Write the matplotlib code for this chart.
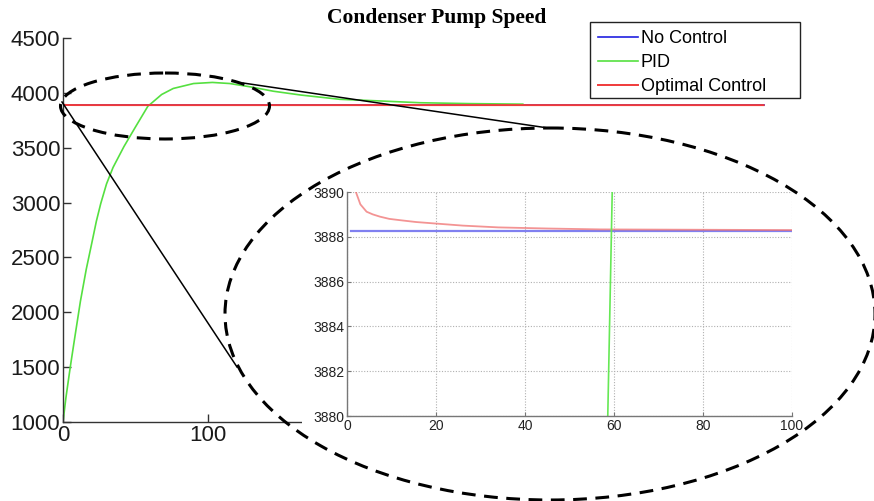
import matplotlib.pyplot as plt
from matplotlib.patches import Ellipse, Rectangle

plt.rcParams['font.family'] = ['Liberation Sans', 'DejaVu Sans']

# PID response (time, speed)
pid_t = [0, 2, 5, 8, 12, 16, 20, 23, 26, 30, 34.5, 42, 50, 58.6, 59.6, 68, 76, 90,
         103, 115, 129, 145, 164, 191, 219, 246, 280, 317]
pid_v = [1000, 1220, 1500, 1760, 2100, 2390, 2640, 2830, 2990, 3170, 3320, 3510,
         3690, 3880, 3890, 3985, 4040, 4085, 4095, 4085, 4055, 4015, 3980, 3941,
         3926, 3910, 3902, 3897]

# Optimal control response
opt_t = [0, 1, 2, 3, 4.4, 5.8, 7.4, 9.5, 12, 15.5, 19.4, 26, 34, 45, 57, 100, 200, 483]
opt_v = [3893, 3891, 3890, 3889.45, 3889.12, 3889.0, 3888.9, 3888.8, 3888.74,
         3888.66, 3888.6, 3888.5, 3888.42, 3888.37, 3888.33, 3888.3, 3888.29, 3888.28]

# No control (constant speed)
noc_t = [1, 483]
noc_v = [3888.28, 3888.28]

main_xticks = [0, 100, 200, 300, 400, 500]
main_yticks = [1000, 1500, 2000, 2500, 3000, 3500, 4000, 4500]
inset_xticks = [0, 20, 40, 60, 80, 100]
inset_yticks = [3880, 3882, 3884, 3886, 3888, 3890]

W, H = 874, 501
fig = plt.figure(figsize=(W / 100, H / 100), dpi=100)


def fig_box(x0, y0, x1, y1):
    # pixel box (top-left origin) -> figure fraction rect
    return [x0 / W, 1 - y1 / H, (x1 - x0) / W, (y1 - y0) / H]


# main axes
ax = fig.add_axes(fig_box(63, 38, 810, 422))
ax.set_zorder(1)
l_noc, = ax.plot(noc_t, noc_v, color='#2020e0', lw=1.2, label='No Control')
l_pid, = ax.plot(pid_t, pid_v, color='#55e040', lw=1.2, label='PID')
l_opt, = ax.plot(opt_t, opt_v, color='#f03a3a', lw=1.4, label='Optimal Control')
ax.set_xlim(0, 515)
ax.set_ylim(1000, 4500)
ax.set_xticks(main_xticks)
ax.set_yticks(main_yticks)
for s in ('top', 'right'):
    ax.spines[s].set_visible(False)
for s in ('left', 'bottom'):
    ax.spines[s].set_color('#333333')
    ax.spines[s].set_linewidth(1.0)
ax.tick_params(direction='in', length=6, width=1, color='#333333',
               labelsize=16, labelcolor='#1a1a1a', pad=2)

# legend entries, boxed separately below
leg = ax.legend(handles=[l_noc, l_pid, l_opt], loc='upper left',
                bbox_to_anchor=(593 / W, 1 - 25 / H), bbox_transform=fig.transFigure,
                borderaxespad=0, fontsize=13, frameon=False,
                handlelength=2.2, handletextpad=0.15, labelspacing=0.38,
                borderpad=0.3)

fig.text(437 / W, 1 - 18 / H, 'Condenser Pump Speed', ha='center', va='center',
         fontsize=15.5, fontweight='bold', family='Liberation Serif')

# overlay in pixel coordinates for the zoom annotation
ov = fig.add_axes([0, 0, 1, 1])
ov.set_zorder(2)
ov.set_xlim(0, W)
ov.set_ylim(H, 0)
ov.axis('off')
ov.patch.set_alpha(0)

ov.add_patch(Rectangle((590, 22), 210, 76, fill=False, edgecolor='#222222', lw=1.0))
ov.add_patch(Rectangle((302, 132), 515, 323, facecolor='white', edgecolor='none'))
ov.plot([62, 237], [102, 367], color='black', lw=1.1)
ov.plot([243, 548], [83, 128], color='black', lw=1.1)
ov.add_patch(Ellipse((165, 106), 209, 66, fill=False, edgecolor='black',
                     lw=2.2, linestyle=(0, (4.5, 2.8))))
ov.add_patch(Ellipse((550, 314), 650, 372, fill=False, edgecolor='black',
                     lw=2.2, linestyle=(0, (4.5, 2.8))))

# zoomed inset
ins = fig.add_axes(fig_box(347, 192, 792, 416))
ins.set_zorder(3)
ins.patch.set_alpha(0)
ins.plot(noc_t, noc_v, color='#8080f0', lw=1.6)
ins.plot(opt_t, opt_v, color='#f07070', lw=1.3, alpha=0.75)
ins.plot(pid_t, pid_v, color='#66e855', lw=1.2)
ins.set_xlim(0, 100)
ins.set_ylim(3880, 3890)
ins.set_xticks(inset_xticks)
ins.set_yticks(inset_yticks)
ins.grid(True, color='#b0b0b0', linestyle=(0, (1, 1.5)), lw=0.8)
for s in ('top', 'right'):
    ins.spines[s].set_visible(False)
for s in ('left', 'bottom'):
    ins.spines[s].set_color('#777777')
    ins.spines[s].set_linewidth(1.0)
ins.tick_params(direction='in', length=3, width=0.8, color='#777777',
                labelsize=10, labelcolor='#222222', pad=2)

fig.savefig('out.png', dpi=100)
